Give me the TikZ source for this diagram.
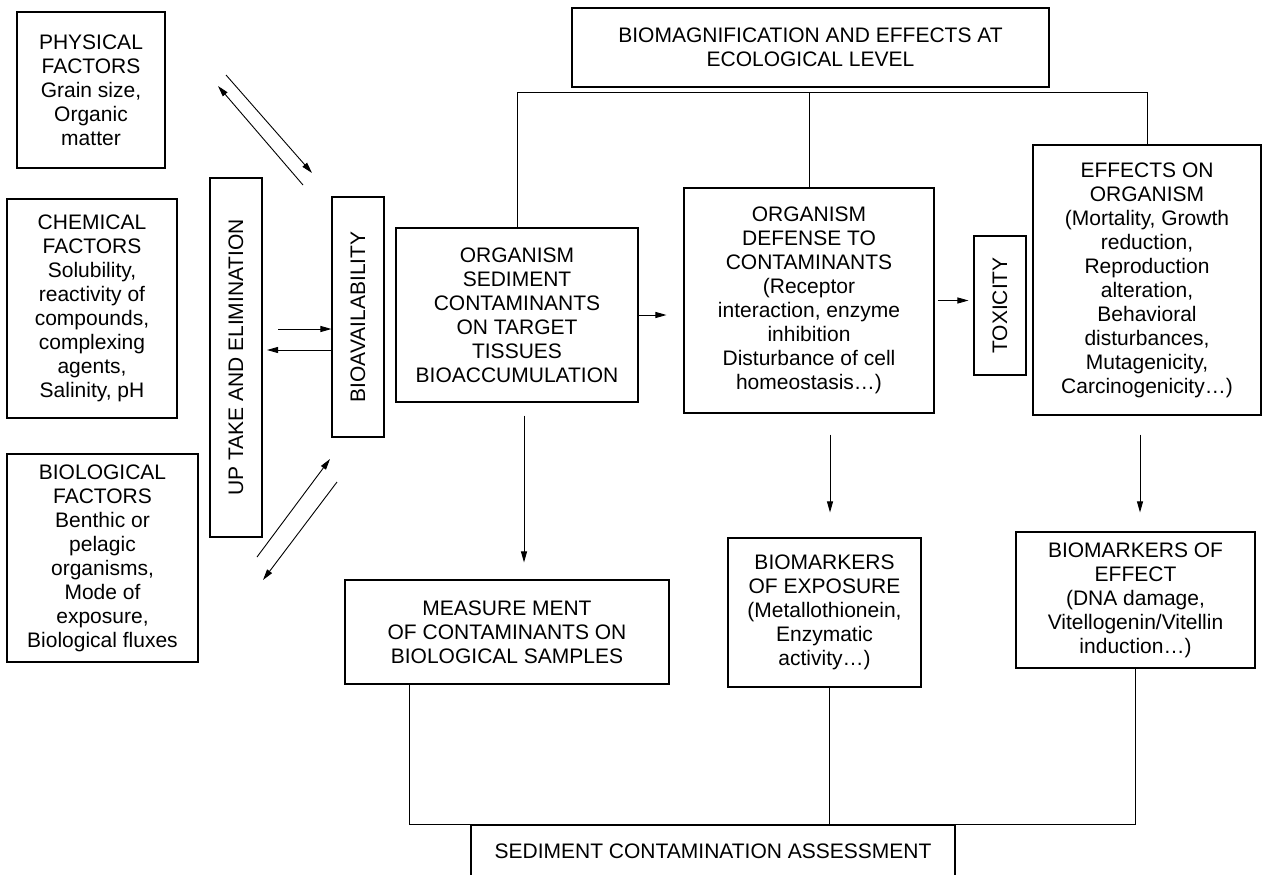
\documentclass[tikz,border=0pt]{standalone}
\usepackage{fontspec}
\setmainfont{Liberation Sans}
\usetikzlibrary{arrows.meta}

\tikzset{
  box/.style={draw=black, line width=1.1pt, inner sep=0pt, align=center,
              font=\fontsize{21pt}{24pt}\selectfont},
  vbox/.style={box, rotate=90},
  link/.style={draw=black, line width=0.9pt},
  arr/.style={link, -{Triangle[length=11pt,width=6pt]}}
}

\begin{document}
\begin{tikzpicture}[x=1pt, y=-1pt]
  % page frame
  \fill[white] (0,0) rectangle (1263,875);
  \useasboundingbox (0,0) rectangle (1263,875);

  % factor boxes on the left
  \node[box, minimum width=148pt, minimum height=156pt] (phys) at (91,90)
    {PHYSICAL\\FACTORS\\Grain size,\\Organic\\matter};
  \node[box, minimum width=170pt, minimum height=219pt] (chem) at (92,308.5)
    {CHEMICAL\\FACTORS\\Solubility,\\reactivity of\\compounds,\\complexing\\agents,\\Salinity, pH};
  \node[box, minimum width=191pt, minimum height=208pt] (bio) at (102.5,558)
    {BIOLOGICAL\\FACTORS\\Benthic or\\pelagic\\organisms,\\Mode of\\exposure,\\Biological fluxes};

  % upright (rotated) boxes; their north anchor faces left
  \node[vbox, minimum width=359pt, minimum height=52pt] (upt) at (236,357.5)
    {UP TAKE AND ELIMINATION};
  \node[vbox, minimum width=240pt, minimum height=52pt] (bav) at (358,317)
    {BIOAVAILABILITY};
  \node[vbox, minimum width=139pt, minimum height=52pt] (tox) at (1000,305.5)
    {TOXICITY};

  % central chain
  \node[box, minimum width=477pt, minimum height=79pt] (top) at (810.5,47.5)
    {BIOMAGNIFICATION AND EFFECTS AT\\ECOLOGICAL LEVEL};
  \node[box, minimum width=242pt, minimum height=174pt] (org) at (517,315)
    {ORGANISM\\SEDIMENT\\CONTAMINANTS\\ON TARGET\\TISSUES\\BIOACCUMULATION};
  \node[box, minimum width=250pt, minimum height=225pt] (def) at (809,300.5)
    {ORGANISM\\DEFENSE TO\\CONTAMINANTS\\(Receptor\\interaction, enzyme\\inhibition\\Disturbance of cell\\homeostasis…)};
  \node[box, minimum width=228pt, minimum height=270pt] (eff) at (1147,280)
    {EFFECTS ON\\ORGANISM\\(Mortality, Growth\\reduction,\\Reproduction\\alteration,\\Behavioral\\disturbances,\\Mutagenicity,\\Carcinogenicity…)};

  % measurement and biomarker boxes
  \node[box, minimum width=324pt, minimum height=104pt] (meas) at (507,632)
    {MEASURE MENT\\OF CONTAMINANTS ON\\BIOLOGICAL SAMPLES};
  \node[box, minimum width=193pt, minimum height=149pt] (exp) at (824.5,612.5)
    {BIOMARKERS\\OF EXPOSURE\\(Metallothionein,\\Enzymatic\\activity…)};
  \node[box, minimum width=239pt, minimum height=136pt] (bme) at (1135.5,600)
    {BIOMARKERS OF\\EFFECT\\(DNA damage,\\Vitellogenin/Vitellin\\induction…)};
  \node[box, minimum width=484pt, minimum height=53pt] (sed) at (713,851.5)
    {SEDIMENT CONTAMINATION ASSESSMENT};

  % exchange arrows between the factors and bioavailability
  \coordinate (p1s) at (226,75);  \coordinate (p1e) at (312,173);
  \coordinate (p2s) at (303,185); \coordinate (p2e) at (218,86);
  \draw[arr] (p1s) -- (p1e);
  \draw[arr] (p2s) -- (p2e);

  \coordinate (h1) at (278,329);
  \coordinate (h2) at (267,350);
  \draw[arr] (h1) -- (h1 -| bav.north);
  \draw[arr] (h2 -| bav.north) -- (h2);

  \coordinate (b1s) at (257,557); \coordinate (b1e) at (330,459);
  \coordinate (b2s) at (337,482); \coordinate (b2e) at (263,580);
  \draw[arr] (b1s) -- (b1e);
  \draw[arr] (b2s) -- (b2e);

  % bus below the ecological-level box
  \coordinate (bus) at (0,92);
  \draw[link] (org.north) -- (org.north |- bus) -- (eff.north |- bus) -- (eff.north);
  \draw[link] (def.north) -- (def.north |- bus);

  % horizontal chain arrows
  \draw[arr, shorten >=17pt] (org.east) -- (org.east -| def.west);
  \draw[arr, shorten <=3pt, shorten >=5pt] (def.east) -- (def.east -| tox.north);

  % downward arrows
  \draw[arr, shorten <=13pt, shorten >=17pt]
    ([xshift=7pt]org.south) -- ([xshift=7pt]org.south |- meas.north);
  \draw[arr, shorten <=21pt, shorten >=25pt]
    ([xshift=5.5pt]exp.north |- def.south) -- ([xshift=5.5pt]exp.north);
  \draw[arr, shorten <=19pt, shorten >=19pt]
    ([xshift=4.5pt]bme.north |- eff.south) -- ([xshift=4.5pt]bme.north);

  % bus into the assessment box
  \draw[link] ([xshift=-98pt]meas.south) -- ([xshift=-98pt]meas.south |- sed.north)
    -- (bme.south |- sed.north) -- (bme.south);
  \draw[link] ([xshift=4.5pt]exp.south) -- ([xshift=4.5pt]exp.south |- sed.north);
\end{tikzpicture}
\end{document}
